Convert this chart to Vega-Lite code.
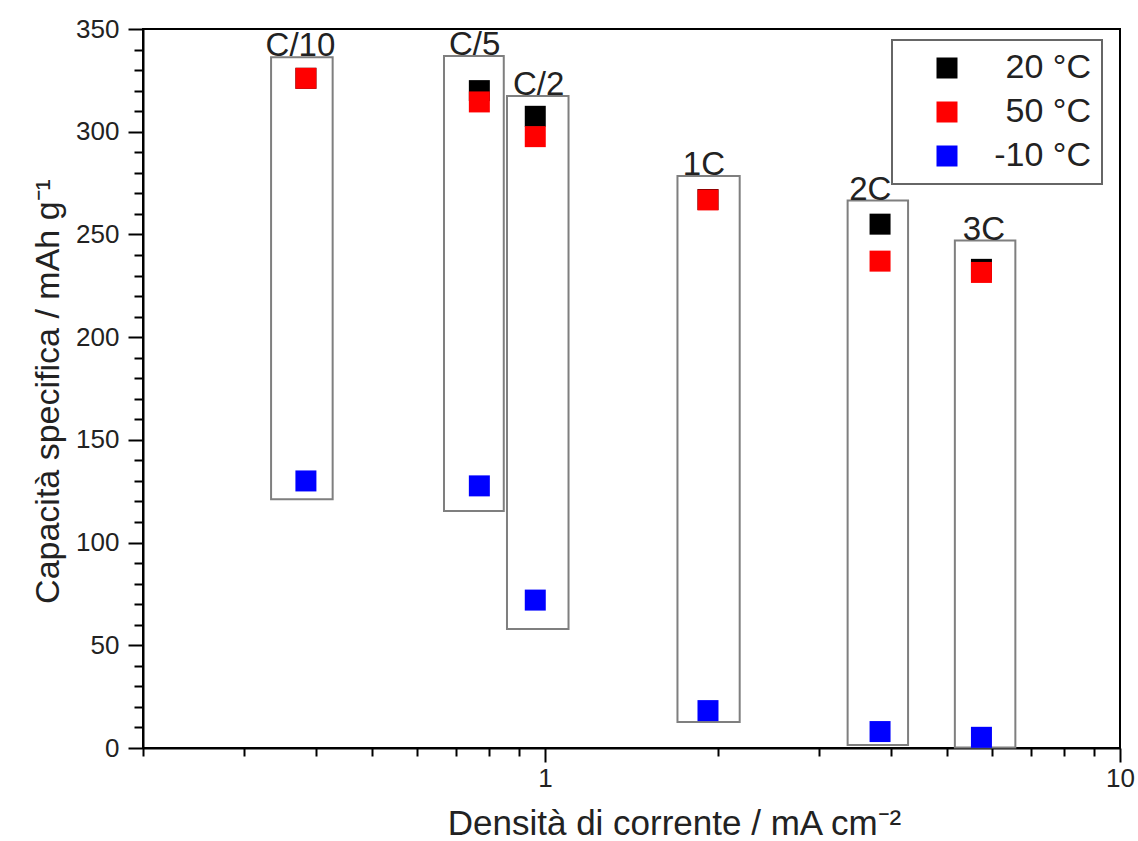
{
  "$schema": "https://vega.github.io/schema/vega-lite/v6.json",
  "width": 977,
  "height": 719,
  "autosize": {"type": "none"},
  "padding": {"left": 143, "top": 29, "right": 18, "bottom": 93},
  "background": "white",
  "config": {
    "font": "Liberation Sans",
    "view": {"stroke": "black", "strokeWidth": 2},
    "legend": {"strokeWidth": 2}
  },
  "resolve": {"axis": {"x": "independent", "y": "independent"}},
  "datasets": {
    "boxes": [
      {"rate": "C/10", "x1": 0.334, "x2": 0.4274, "top": 336.3, "bottom": 121.1, "lx": 0.3757},
      {"rate": "C/5", "x1": 0.6675, "x2": 0.848, "top": 336.9, "bottom": 115.4, "lx": 0.7548},
      {"rate": "C/2", "x1": 0.859, "x2": 1.099, "top": 317.4, "bottom": 57.9, "lx": 0.975},
      {"rate": "1C", "x1": 1.7, "x2": 2.181, "top": 278.5, "bottom": 12.7, "lx": 1.89},
      {"rate": "2C", "x1": 3.36, "x2": 4.28, "top": 266.5, "bottom": 1.5, "lx": 3.68},
      {"rate": "3C", "x1": 5.162, "x2": 6.577, "top": 247, "bottom": 0.3, "lx": 5.8}
    ],
    "points": [
      {"rate": "C/10", "temp": "20 °C", "density": 0.384, "capacity": 326},
      {"rate": "C/5", "temp": "20 °C", "density": 0.769, "capacity": 320},
      {"rate": "C/2", "temp": "20 °C", "density": 0.962, "capacity": 307.5},
      {"rate": "1C", "temp": "20 °C", "density": 1.921, "capacity": 267},
      {"rate": "2C", "temp": "20 °C", "density": 3.826, "capacity": 255},
      {"rate": "3C", "temp": "20 °C", "density": 5.742, "capacity": 233},
      {"rate": "C/10", "temp": "50 °C", "density": 0.384, "capacity": 326},
      {"rate": "C/5", "temp": "50 °C", "density": 0.769, "capacity": 314.5},
      {"rate": "C/2", "temp": "50 °C", "density": 0.962, "capacity": 297.6},
      {"rate": "1C", "temp": "50 °C", "density": 1.921, "capacity": 266.8},
      {"rate": "2C", "temp": "50 °C", "density": 3.826, "capacity": 237},
      {"rate": "3C", "temp": "50 °C", "density": 5.742, "capacity": 231.5},
      {"rate": "C/10", "temp": "-10 °C", "density": 0.384, "capacity": 130},
      {"rate": "C/5", "temp": "-10 °C", "density": 0.769, "capacity": 127.6},
      {"rate": "C/2", "temp": "-10 °C", "density": 0.962, "capacity": 72},
      {"rate": "1C", "temp": "-10 °C", "density": 1.921, "capacity": 18.2},
      {"rate": "2C", "temp": "-10 °C", "density": 3.826, "capacity": 8},
      {"rate": "3C", "temp": "-10 °C", "density": 5.742, "capacity": 5.2}
    ]
  },
  "layer": [
    {
      "data": {"name": "boxes"},
      "mark": {"type": "rect", "fill": "white", "fillOpacity": 0, "stroke": "#7f7f7f", "strokeWidth": 2},
      "encoding": {
        "x": {
          "field": "x1", "type": "quantitative",
          "scale": {"type": "log", "domain": [0.2, 10], "nice": false},
          "axis": {
            "orient": "bottom",
            "title": "Densità di corrente / mA cm⁻²",
            "values": [1, 10],
            "format": "d",
            "tickSize": 14,
            "grid": false,
            "domainColor": "black", "domainWidth": 2,
            "tickColor": "black", "tickWidth": 2,
            "labelFontSize": 26, "labelColor": "#222", "labelPadding": 3,
            "labelFlush": false, "labelOverlap": false,
            "titleFontSize": 35, "titleFontWeight": "normal", "titleColor": "#222",
            "titleBaseline": "alphabetic", "titleX": 531, "titleY": 86
          }
        },
        "x2": {"field": "x2"},
        "y": {
          "field": "top", "type": "quantitative",
          "scale": {"domain": [0, 350], "nice": false},
          "axis": {
            "orient": "left",
            "title": "Capacità specifica / mAh g⁻¹",
            "values": [0, 50, 100, 150, 200, 250, 300, 350],
            "tickSize": 15,
            "grid": false,
            "domainColor": "black", "domainWidth": 2,
            "tickColor": "black", "tickWidth": 2,
            "labelFontSize": 26, "labelColor": "#222", "labelPadding": 9,
            "labelFlush": false, "labelOverlap": false,
            "titleFontSize": 34, "titleFontWeight": "normal", "titleColor": "#222",
            "titleBaseline": "alphabetic", "titleX": -85, "titleY": 362
          }
        },
        "y2": {"field": "bottom"}
      }
    },
    {
      "data": {"name": "boxes"},
      "mark": {"type": "text", "fontSize": 33, "baseline": "alphabetic", "dy": -1, "color": "#222"},
      "encoding": {
        "x": {"field": "lx", "type": "quantitative", "axis": null},
        "y": {"field": "top", "type": "quantitative", "axis": null},
        "text": {"field": "rate"}
      }
    },
    {
      "data": {"name": "points"},
      "mark": {"type": "square", "size": 441, "opacity": 1},
      "encoding": {
        "x": {
          "field": "density", "type": "quantitative",
          "axis": {
            "orient": "bottom",
            "title": null,
            "values": [0.2, 0.3, 0.4, 0.5, 0.6, 0.7, 0.8, 0.9, 2, 3, 4, 5, 6, 7, 8, 9],
            "labels": false,
            "domain": false,
            "grid": false,
            "tickSize": 8, "tickColor": "black", "tickWidth": 2
          }
        },
        "y": {
          "field": "capacity", "type": "quantitative",
          "axis": {
            "orient": "left",
            "title": null,
            "values": [10, 20, 30, 40, 60, 70, 80, 90, 110, 120, 130, 140, 160, 170, 180, 190, 210, 220, 230, 240, 260, 270, 280, 290, 310, 320, 330, 340],
            "labels": false,
            "domain": false,
            "grid": false,
            "tickSize": 9, "tickColor": "black", "tickWidth": 2
          }
        },
        "color": {
          "field": "temp", "type": "nominal",
          "scale": {"domain": ["20 °C", "50 °C", "-10 °C"], "range": ["#000000", "#ff0000", "#0000ff"]},
          "legend": {
            "title": null,
            "orient": "none", "legendX": 749, "legendY": 11,
            "direction": "vertical",
            "strokeColor": "#666", "fillColor": "white",
            "padding": 11,
            "symbolType": "square", "symbolSize": 441, "symbolOffset": 27, "symbolStrokeWidth": 0,
            "labelFontSize": 34, "labelColor": "#222",
            "labelAlign": "right", "labelOffset": 127, "labelLimit": 400,
            "rowPadding": 10
          }
        }
      }
    }
  ]
}
